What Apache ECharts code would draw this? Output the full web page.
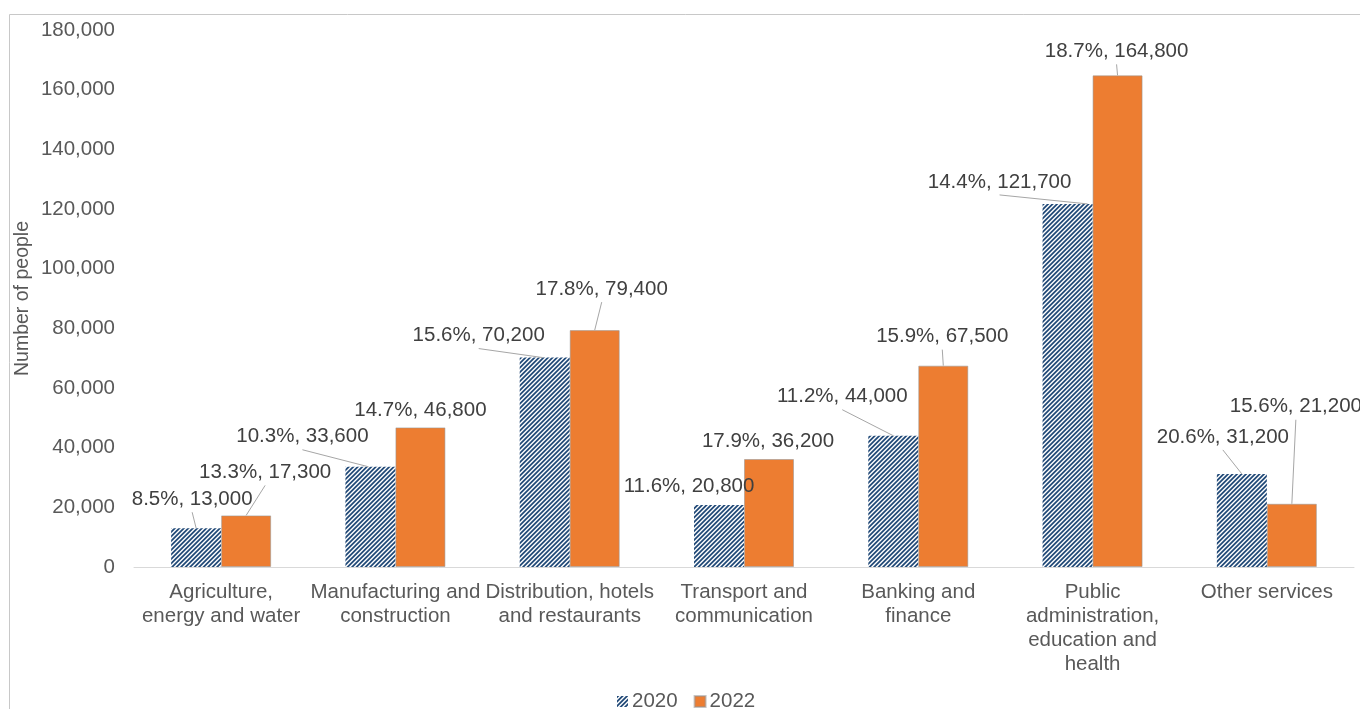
<!DOCTYPE html>
<html>
<head>
<meta charset="utf-8">
<title>Number of people by industry, 2020 and 2022</title>
<script src="https://cdn.jsdelivr.net/npm/echarts@6/dist/echarts.min.js"></script>
<style>
  html, body { margin: 0; padding: 0; background: #ffffff; }
  #chart { width: 1360px; height: 709px; }
</style>
</head>
<body>
<div id="chart"></div>
<script>
// ---- data ----
const categories = [
  'Agriculture,\nenergy and water',
  'Manufacturing and\nconstruction',
  'Distribution, hotels\nand restaurants',
  'Transport and\ncommunication',
  'Banking and\nfinance',
  'Public\nadministration,\neducation and\nhealth',
  'Other services'
];
const seriesNames = ['2020', '2022'];
const people2020 = [13000, 33600, 70200, 20800, 44000, 121700, 31200];
const people2022 = [17300, 46800, 79400, 36200, 67500, 164800, 21200];
const share2020 = [8.5, 10.3, 15.6, 11.6, 11.2, 14.4, 20.6];
const share2022 = [13.3, 14.7, 17.8, 17.9, 15.9, 18.7, 15.6];
const axisMin = 0;
const axisMax = 180000;
const axisStep = 20000;

// ---- label placement: [dx from bar centre, dy from bar top, draw leader line, leader foot dx on bar top] ----
const labelPlacement = [
  [[-4, -29, true, 0], [-68, -30, true, -2], [-66, -22, true, -2], [-30, -19, false, 0], [-51, -39, true, 0], [-68, -22, true, 20], [-19, -37, true, 0]],
  [[19, -43, true, 0], [0, -17, false, 0], [7, -41, true, 0], [-1, -18, false, 0], [-1, -29, true, 0], [-1, -24, true, 0], [4, -97, true, 0]]
];
const BAR_WIDTH = 50;
const LEADER_GAP = 13; // distance from label centre down to the leader's upper end

const FONT = '"Liberation Sans", Arial, Helvetica, sans-serif';
const fmt = n => n.toLocaleString('en-US');

// Diagonal "/" hatching tile used for the 2020 bars
function stripeTile() {
  const size = 9, period = 4.5, ink = 2.3, ss = 4;
  const cv = document.createElement('canvas');
  cv.width = cv.height = size;
  const ctx = cv.getContext('2d');
  const img = ctx.createImageData(size, size);
  const dark = [34, 74, 120], light = [255, 255, 255];
  for (let y = 0; y < size; y++) {
    for (let x = 0; x < size; x++) {
      let cov = 0;
      for (let sy = 0; sy < ss; sy++) {
        for (let sx = 0; sx < ss; sx++) {
          const u = x + (sx + 0.5) / ss, v = y + (sy + 0.5) / ss;
          if (((u + v) % period) < ink) cov++;
        }
      }
      cov /= ss * ss;
      const i = (y * size + x) * 4;
      for (let k = 0; k < 3; k++) img.data[i + k] = Math.round(dark[k] * cov + light[k] * (1 - cov));
      img.data[i + 3] = 255;
    }
  }
  ctx.putImageData(img, 0, 0);
  return cv;
}

function buildData(values, shares) {
  return values.map((v, i) => ({ value: v, share: shares[i] }));
}

// Put each value label at its offset from the top centre of its bar
function placeLabel(p) {
  const place = labelPlacement[p.seriesIndex][p.dataIndex];
  const r = p.rect;
  const top = Math.min(r.y, r.y + r.height);
  const cx = r.x + r.width / 2;
  return { x: cx + place[0], y: top + place[1], align: 'center', verticalAlign: 'middle' };
}

// Leader lines: one row per bar -> [category index, value, series index]
const leaderRows = [];
[people2020, people2022].forEach((vals, s) => vals.forEach((v, i) => leaderRows.push([i, v, s])));

function renderLeader(params, api) {
  const cat = api.value(0);
  const s = api.value(2);
  const place = labelPlacement[s][cat];
  if (!place[2]) return null;
  const top = api.coord([cat, api.value(1)]);
  const bx = top[0] + (s === 0 ? -BAR_WIDTH / 2 : BAR_WIDTH / 2);
  return {
    type: 'line',
    silent: true,
    shape: { x1: bx + place[3], y1: top[1], x2: bx + place[0], y2: top[1] + place[1] + LEADER_GAP },
    style: { stroke: '#a6a6a6', lineWidth: 1 }
  };
}

const labelCommon = {
  show: true,
  position: 'top',
  fontFamily: FONT,
  fontSize: 20.5,
  color: '#404040',
  formatter: p => p.data.share.toFixed(1) + '%, ' + fmt(p.value)
};

const chart = echarts.init(document.getElementById('chart'), null, { renderer: 'canvas' });

chart.setOption({
  animation: false,
  backgroundColor: '#ffffff',
  textStyle: { fontFamily: FONT },
  graphic: [{
    type: 'rect',
    silent: true,
    z: -10,
    shape: { x: 9.5, y: 14.5, width: 1400, height: 800 },
    style: { fill: 'none', stroke: '#c8c8c8', lineWidth: 1 }
  }],
  grid: { left: 134, right: 6, top: 30, bottom: 142 },
  legend: {
    data: seriesNames,
    left: 612,
    top: 686,
    itemWidth: 11,
    itemHeight: 11,
    itemGap: 16,
    icon: 'rect',
    textStyle: { fontFamily: FONT, fontSize: 20.5, color: '#595959', padding: [0, 0, 0, -1] }
  },
  xAxis: {
    type: 'category',
    data: categories,
    axisTick: { show: false },
    axisLine: { lineStyle: { color: '#d9d9d9', width: 1 } },
    axisLabel: {
      interval: 0,
      margin: 13,
      fontFamily: FONT,
      fontSize: 20.5,
      lineHeight: 24,
      color: '#595959'
    }
  },
  yAxis: {
    type: 'value',
    min: axisMin,
    max: axisMax,
    interval: axisStep,
    name: 'Number of people',
    nameLocation: 'middle',
    nameGap: 101,
    nameMoveOverlap: false,
    nameTextStyle: { fontFamily: FONT, fontSize: 19.5, color: '#595959' },
    axisLine: { show: false },
    axisTick: { show: false },
    splitLine: { show: false },
    axisLabel: {
      margin: 19,
      fontFamily: FONT,
      fontSize: 20.5,
      color: '#595959',
      formatter: v => fmt(v)
    }
  },
  series: [
    {
      name: seriesNames[0],
      type: 'bar',
      barWidth: BAR_WIDTH,
      barGap: '0%',
      data: buildData(people2020, share2020),
      itemStyle: { color: { image: stripeTile(), repeat: 'repeat' } },
      label: labelCommon,
      labelLayout: placeLabel
    },
    {
      name: seriesNames[1],
      type: 'bar',
      barWidth: BAR_WIDTH,
      barGap: '0%',
      data: buildData(people2022, share2022),
      itemStyle: { color: '#ED7D31', borderColor: 'rgba(150,150,150,0.55)', borderWidth: 1 },
      label: labelCommon,
      labelLayout: placeLabel
    },
    {
      name: 'leaders',
      type: 'custom',
      silent: true,
      clip: false,
      z: 3,
      encode: { x: 0, y: 1 },
      data: leaderRows,
      renderItem: renderLeader
    }
  ]
});
</script>
</body>
</html>
